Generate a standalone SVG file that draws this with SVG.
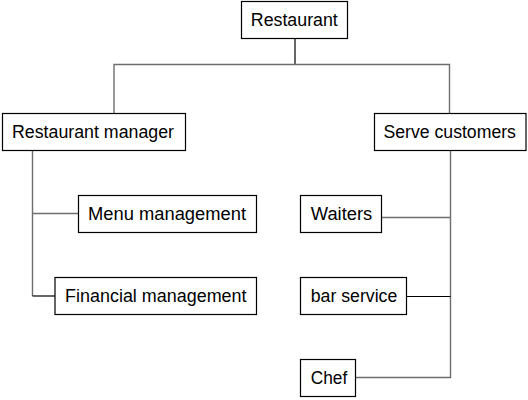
<svg xmlns="http://www.w3.org/2000/svg" width="528" height="400" viewBox="0 0 528 400">
<style>
.box{fill:#fff;stroke:#000;stroke-width:1.2}
.t{font-family:"Liberation Sans",Arial,sans-serif;font-size:17.5px;fill:#000;text-anchor:middle}
.c{fill:none;stroke:#6e6e6e;stroke-width:1.4}
.k{fill:none;stroke:#000;stroke-width:1.2}
</style>
<rect width="528" height="400" fill="#fff"/>
<g id="connectors">
<path class="k" d="M295 38.5V64.5"/>
<path class="c" d="M114 113.5V64.5H449.5V113.5"/>
<path class="c" d="M32.5 150.5V296"/>
<path class="c" d="M32.5 213.5H78.5"/>
<path class="k" d="M32.5 296H55"/>
<path class="c" d="M450.5 150.5V377.5H356"/>
<path class="c" d="M382 217.5H450.5"/>
<path class="k" d="M407 296.5H450.5"/>
</g>
<g id="n-restaurant"><rect class="box" x="241.5" y="1.5" width="106" height="37"/><text class="t" x="294.3" y="26" textLength="87" lengthAdjust="spacingAndGlyphs">Restaurant</text></g>
<g id="n-manager"><rect class="box" x="2.5" y="113.5" width="183" height="37"/><text class="t" x="93" y="138" textLength="162" lengthAdjust="spacingAndGlyphs">Restaurant manager</text></g>
<g id="n-serve"><rect class="box" x="374.5" y="113.5" width="151.5" height="37"/><text class="t" x="449.7" y="138" textLength="132.5" lengthAdjust="spacingAndGlyphs">Serve customers</text></g>
<g id="n-menu"><rect class="box" x="78.5" y="195.5" width="178" height="37"/><text class="t" x="167" y="220" textLength="158" lengthAdjust="spacingAndGlyphs">Menu management</text></g>
<g id="n-financial"><rect class="box" x="55" y="277.5" width="201.5" height="37"/><text class="t" x="155.8" y="302" textLength="181.5" lengthAdjust="spacingAndGlyphs">Financial management</text></g>
<g id="n-waiters"><rect class="box" x="300.5" y="195.5" width="81" height="37"/><text class="t" x="341.5" y="220" textLength="61.5" lengthAdjust="spacingAndGlyphs">Waiters</text></g>
<g id="n-bar"><rect class="box" x="300.5" y="277.5" width="106" height="37"/><text class="t" x="354" y="302" textLength="86.5" lengthAdjust="spacingAndGlyphs">bar service</text></g>
<g id="n-chef"><rect class="box" x="300.5" y="359.5" width="55" height="37"/><text class="t" x="329" y="384" textLength="36.5" lengthAdjust="spacingAndGlyphs">Chef</text></g>
</svg>
